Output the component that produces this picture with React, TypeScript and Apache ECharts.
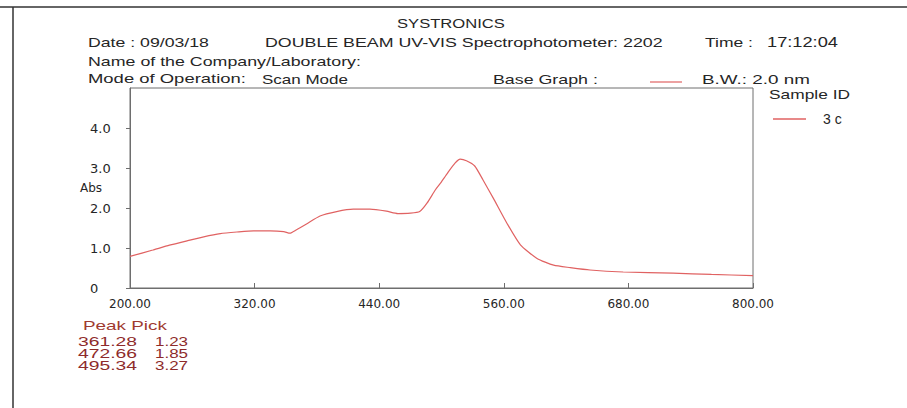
import { useEffect, useRef } from 'react';
import * as echarts from 'echarts';

// ---- data ----
const wavelengths = [200, 222, 238, 255, 271, 287, 303, 319, 335, 348, 354, 360, 370, 383, 399, 415, 431, 447, 458, 470, 479, 486, 494, 499, 506, 513, 518, 524, 532, 540, 550, 563, 576, 592, 608, 624, 643, 675, 723, 760, 800];
const absorbance = [0.79, 0.95, 1.07, 1.18, 1.28, 1.36, 1.40, 1.43, 1.43, 1.41, 1.37, 1.45, 1.60, 1.80, 1.91, 1.97, 1.97, 1.92, 1.86, 1.87, 1.91, 2.12, 2.45, 2.62, 2.88, 3.12, 3.22, 3.18, 3.05, 2.70, 2.24, 1.62, 1.08, 0.74, 0.57, 0.51, 0.45, 0.40, 0.37, 0.34, 0.31];
const xTickValues = [200, 320, 440, 560, 680, 800];
const yTickValues = [0, 1, 2, 3, 4];
const sampleName = '3 c';
const peakWavelengths = ['361.28', '472.66', '495.34'];
const peakAbs = ['1.23', '1.85', '3.27'];

const LINE_COLOR = '#e06262';
const TEXT = '#262626';
const PEAK = '#8e2b2b';
const HF = 'Liberation Sans';

function measure(text: string, size: number, family: string): number {
  const c = document.createElement('canvas').getContext('2d');
  if (!c) return text.length * size * 0.55;
  c.font = `${size}px "${family}"`;
  return c.measureText(text).width || 1;
}

function fitText(text: string, left: number, cy: number, width: number, size: number, color: string, family = HF) {
  const scale = width / measure(text, size, family);
  return {
    type: 'text',
    x: left,
    y: cy,
    scaleX: scale,
    silent: true,
    style: {
      text,
      fontSize: size,
      fontFamily: family,
      fill: color,
      align: 'left',
      verticalAlign: 'middle',
      textAlign: 'left',
      textVerticalAlign: 'middle',
    },
  };
}

export default function App() {
  const ref = useRef<HTMLDivElement>(null);

  useEffect(() => {
    if (!ref.current) return;
    const chart = echarts.init(ref.current, null, { renderer: 'svg' });

    const graphics: any[] = [
      { type: 'line', silent: true, shape: { x1: 0, y1: 7, x2: 907, y2: 7 }, style: { stroke: '#333', lineWidth: 1.5 } },
      { type: 'line', silent: true, shape: { x1: 13, y1: 7, x2: 13, y2: 408 }, style: { stroke: '#333', lineWidth: 1.5 } },
      fitText('SYSTRONICS', 397, 24, 108, 13, TEXT),
      fitText('Date : 09/03/18', 88, 42, 121, 13, TEXT),
      fitText('DOUBLE BEAM UV-VIS Spectrophotometer: 2202', 265, 42, 398, 13, TEXT),
      fitText('Time :', 705, 42, 48, 13, TEXT),
      fitText('17:12:04', 767, 42, 71, 14, TEXT),
      fitText('Name of the Company/Laboratory:', 88, 61, 273, 13, TEXT),
      fitText('Mode of Operation:', 88, 79, 158, 13, TEXT),
      fitText('Scan Mode', 262, 79, 86, 13, TEXT),
      fitText('Base Graph :', 493, 79, 105, 13, TEXT),
      { type: 'line', silent: true, shape: { x1: 650, y1: 82, x2: 682, y2: 82 }, style: { stroke: LINE_COLOR, lineWidth: 1.2 } },
      fitText('B.W.: 2.0 nm', 702, 79, 108, 13, TEXT),
      fitText('Sample ID', 769, 94, 81, 13, TEXT),
      fitText('Peak Pick', 83, 325, 84, 13, '#a03a30'),
    ];
    const peakYs = [341, 353, 365];
    peakWavelengths.forEach((w, i) => {
      graphics.push(fitText(w, 78, peakYs[i], 59, 13, PEAK));
      graphics.push(fitText(peakAbs[i], 155, peakYs[i], 33, 13, PEAK));
    });

    const option: any = {
      animation: false,
      backgroundColor: '#ffffff',
      grid: {
        left: 130,
        right: 154,
        top: 88,
        bottom: 120,
        show: true,
        borderColor: '#6e6e6e',
        borderWidth: 1,
        containLabel: false,
        outerBoundsMode: 'none',
      },
      legend: {
        data: [{ name: sampleName, icon: 'rect' }],
        left: 773,
        top: 112,
        padding: 0,
        itemWidth: 33,
        itemHeight: 1.3,
        itemStyle: { color: LINE_COLOR, borderWidth: 0 },
        lineStyle: { width: 0 },
        textStyle: { fontFamily: HF, fontSize: 14, color: TEXT, padding: [0, 0, 0, 12] },
      },
      xAxis: {
        type: 'value',
        min: 200,
        max: 800,
        axisLine: { show: true, lineStyle: { color: '#6e6e6e', width: 1 } },
        axisTick: { show: true, inside: true, length: 5, customValues: xTickValues, lineStyle: { color: '#6e6e6e' } },
        axisLabel: {
          customValues: xTickValues,
          formatter: (v: number) => v.toFixed(2),
          margin: 10,
          fontFamily: 'DejaVu Sans',
          fontSize: 12,
          color: TEXT,
        },
        splitLine: { show: false },
      },
      yAxis: {
        type: 'value',
        min: 0,
        max: 5,
        name: 'Abs',
        nameLocation: 'middle',
        nameRotate: 0,
        nameGap: 28,
        nameMoveOverlap: false,
        nameTextStyle: { fontFamily: 'DejaVu Sans', fontSize: 12, color: TEXT, align: 'right' },
        axisLine: { show: true, lineStyle: { color: '#6e6e6e', width: 1 } },
        axisTick: { show: true, inside: false, length: 4, customValues: yTickValues, lineStyle: { color: '#6e6e6e' } },
        axisLabel: {
          customValues: yTickValues,
          formatter: (v: number) => (v === 0 ? '0' : v.toFixed(1)),
          align: 'left',
          margin: 40,
          fontFamily: 'DejaVu Sans',
          fontSize: 13,
          color: TEXT,
        },
        splitLine: { show: false },
      },
      series: [
        {
          name: sampleName,
          type: 'line',
          data: wavelengths.map((w, i) => [w, absorbance[i]]),
          symbol: 'none',
          smooth: 0.2,
          lineStyle: { color: LINE_COLOR, width: 1.2 },
          itemStyle: { color: LINE_COLOR },
        },
      ],
      graphic: graphics,
    };

    chart.setOption(option);
    return () => chart.dispose();
  }, []);

  return (
    <div
      ref={ref}
      style={{ position: 'fixed', left: 0, top: 0, width: 907, height: 408, background: '#fff' }}
    />
  );
}
